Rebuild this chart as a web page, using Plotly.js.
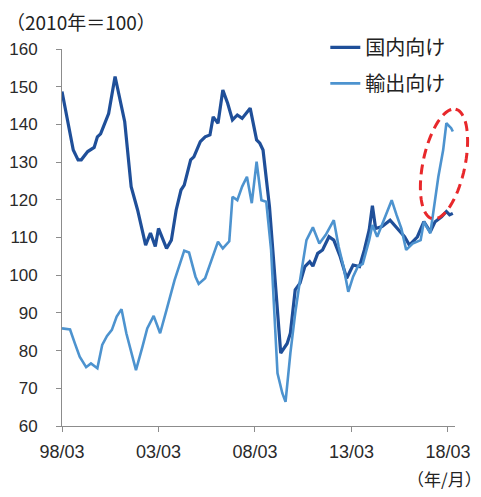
<!DOCTYPE html>
<html>
<head>
<meta charset="utf-8">
<script src="https://cdn.plot.ly/plotly-3.0.1.min.js"></script>
<style>html,body{margin:0;padding:0;background:#fff;}#chart{width:481px;height:497px;}</style>
</head>
<body>
<div id="chart"></div>
<script>
// ---- data ----
const domesticName = "国内向け";
const exportName = "輸出向け";

const domesticDates = ["1998-03","1998-07","1998-10","1999-01","1999-03","1999-07","1999-11","2000-01","2000-03","2000-08","2000-12",
  "2001-06","2001-10","2002-02","2002-07","2002-10","2003-01","2003-03","2003-08","2003-11","2004-02","2004-05","2004-07","2004-11",
  "2005-01","2005-05","2005-08","2005-11","2006-01","2006-04","2006-07","2006-10","2007-01","2007-04","2007-07","2007-12","2008-04",
  "2008-06","2008-08","2008-12","2009-03","2009-07","2009-11","2010-01","2010-04","2010-07","2010-10","2011-01","2011-03","2011-06",
  "2011-09","2012-01","2012-04","2012-08","2012-12","2013-04","2013-08","2013-11","2014-02","2014-04","2014-06","2014-10","2015-03",
  "2015-08","2015-12","2016-03","2016-08","2016-12","2017-04","2017-07","2017-11","2018-02","2018-04","2018-06"];
const domesticValues = [148.7,140.3,133.2,130.6,130.6,132.8,133.9,136.7,137.5,142.9,152.7,
  140.7,123.5,117.3,108.0,111.2,107.6,112.4,107.1,109.3,117.3,122.6,123.9,130.6,
  131.4,135.4,136.7,137.2,142.0,140.3,149.1,145.6,141.2,142.5,141.6,144.3,135.9,
  135.0,133.2,118.2,100.5,79.3,81.9,84.6,96.1,97.9,102.3,103.6,102.4,105.8,
  106.7,110.2,109.3,104.9,99.2,102.7,102.3,106.7,112.0,118.4,112.4,112.9,114.6,
  112.0,110.2,108.0,110.2,114.2,111.5,114.2,115.5,116.9,116.0,116.4];

const exportDates = ["1998-03","1998-08","1998-11","1999-02","1999-06","1999-09","2000-01","2000-04","2000-07","2000-10","2001-01",
  "2001-04","2001-07","2002-01","2002-05","2002-08","2002-12","2003-04","2003-08","2004-01","2004-07","2004-10","2005-02","2005-04",
  "2005-08","2005-12","2006-04","2006-07","2006-11","2007-01","2007-04","2007-07","2007-10","2008-01","2008-04","2008-07","2008-10",
  "2009-01","2009-03","2009-05","2009-08","2009-10","2010-01","2010-04","2010-07","2010-11","2011-03","2011-07","2011-11","2012-04",
  "2012-07","2012-10","2013-01","2013-04","2013-07","2013-10","2014-02","2014-04","2014-07","2014-11","2015-04","2015-07","2015-10",
  "2016-01","2016-05","2016-10","2016-12","2017-04","2017-06","2017-09","2017-12","2018-02","2018-05","2018-06"];
const exportValues = [85.9,85.6,81.9,78.4,75.6,76.6,75.3,81.5,83.9,85.5,89.0,
  91.0,84.6,74.8,81.0,85.9,89.2,84.6,90.8,98.7,106.5,106.0,99.6,97.7,
  99.2,104.0,108.9,107.1,109.0,120.8,119.9,123.5,126.1,119.1,130.1,119.9,119.5,
  106.7,89.9,74.0,68.7,66.4,79.3,89.9,98.7,109.3,112.7,108.4,110.7,114.6,
  107.6,102.3,95.6,99.6,102.3,103.0,109.3,113.3,110.2,114.6,119.9,116.0,112.4,
  106.7,108.4,109.3,114.2,111.1,117.3,126.1,133.2,140.3,139.0,138.1];

const tickLabels = ["98/03","03/03","08/03","13/03","18/03"];
const tickDates = ["1998-03","2003-03","2008-03","2013-03","2018-03"];
const yTicks = [60,70,80,90,100,110,120,130,140,150,160];

// ---- helpers ----
function toYear(s){ const p = s.split("-"); return +p[0] + (+p[1]-1)/12; }

const W = 481, H = 497;
const M = {l:62, r:26, t:49, b:71};
const PW = W - M.l - M.r, PH = H - M.t - M.b;
const xRange = [toYear("1998-03"), 2018.53];
const yRange = [60, 160];

// dashed highlight ellipse, built in pixels and expressed in paper units (not clipped)
function ellipsePath(cxPx, cyPx, a, b, thetaDeg){
  const th = thetaDeg*Math.PI/180;
  const ux = Math.sin(th), uy = -Math.cos(th);
  const vx = Math.cos(th), vy = Math.sin(th);
  let d = "";
  const n = 72;
  for(let i=0;i<=n;i++){
    const t = 2*Math.PI*i/n;
    const px = cxPx + a*Math.cos(t)*ux + b*Math.sin(t)*vx;
    const py = cyPx + a*Math.cos(t)*uy + b*Math.sin(t)*vy;
    const X = (px - M.l)/PW, Y = (H - M.b - py)/PH;
    d += (i===0?"M":"L") + X.toFixed(4) + "," + Y.toFixed(4) + " ";
  }
  return d + "Z";
}

const font = "Liberation Sans, Arial, sans-serif";
const cjk = "Noto Sans CJK JP, sans-serif";

const traces = [
  {x: domesticDates.map(toYear), y: domesticValues, name: domesticName, type:"scatter", mode:"lines",
   legendgroup:"a", line:{color:"#1f4f99", width:3.2}},
  {x: exportDates.map(toYear), y: exportValues, name: exportName, type:"scatter", mode:"lines",
   legendgroup:"b", line:{color:"#4d93cf", width:2.6}}
];

const layout = {
  width: W, height: H,
  margin: M,
  paper_bgcolor:"#fff", plot_bgcolor:"#fff",
  showlegend: true,
  legend: {x: 0.67, y: 1.056, xanchor:"left", yanchor:"top", bgcolor:"rgba(0,0,0,0)",
    font:{family:cjk, size:20, color:"#222"}, tracegroupgap: 7},
  xaxis: {range: xRange, tickmode:"array", tickvals: tickDates.map(toYear), ticktext: tickLabels,
    showgrid:false, zeroline:false, showline:true, linecolor:"#8c8c8c", linewidth:1,
    ticks:"outside", ticklen:5, tickcolor:"#8c8c8c", ticklabelstandoff: 4,
    tickfont:{family:font, size:18, color:"#2a2a2a"}},
  yaxis: {range: yRange, tickmode:"array", tickvals: yTicks,
    showgrid:false, zeroline:false, showline:true, linecolor:"#8c8c8c", linewidth:1,
    ticks:"outside", ticklen:5, tickcolor:"#8c8c8c", ticklabelstandoff: 15,
    tickfont:{family:font, size:17, color:"#2a2a2a"}},
  annotations: [
    {text:"（2010年＝100）", xref:"paper", yref:"paper", x:(4-M.l)/PW, y:1+(M.t-22)/PH, xanchor:"left", yanchor:"middle",
     showarrow:false, font:{family:cjk, size:19, color:"#222"}},
    {text:"（年/月）", xref:"paper", yref:"paper", x:(484-M.l)/PW, y:-(478-(H-M.b))/PH, xanchor:"right", yanchor:"middle",
     showarrow:false, font:{family:cjk, size:17, color:"#222"}}
  ],
  shapes: [
    {type:"path", xref:"paper", yref:"paper", path: ellipsePath(444, 164, 56, 21, 12),
     line:{color:"#e8282b", width:3, dash:"10px,6px"}, fillcolor:"rgba(0,0,0,0)", layer:"above"}
  ]
};

Plotly.newPlot("chart", traces, layout, {displayModeBar:false, staticPlot:true});
</script>
</body>
</html>
